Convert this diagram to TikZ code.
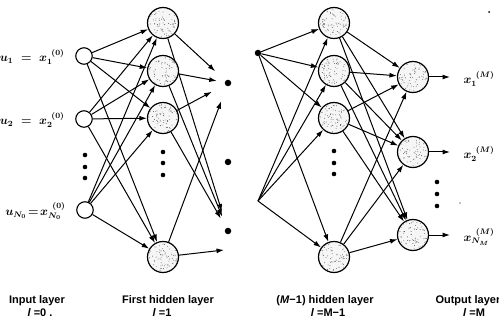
\documentclass[tikz,border=0pt]{standalone}
\usepackage{fontspec}
\setsansfont{Liberation Sans}
\usetikzlibrary{arrows.meta,backgrounds}

% grainy shading inside a neuron
\newcommand\stipple[1]{%
  \begin{scope}
    \clip (#1) circle (14.5pt);
    \foreach \k in {1,...,75}{
      \pgfmathsetmacro\rx{14*rand}
      \pgfmathsetmacro\ry{14*rand}
      \fill[black!65] ([shift={(\rx pt,\ry pt)}]#1.center) circle (0.45pt);
    }
  \end{scope}}

\tikzset{
  inp/.style={circle,draw,line width=1.1pt,minimum size=16.5pt,inner sep=0pt,fill=white},
  hid/.style={circle,draw,line width=1.2pt,minimum size=31pt,inner sep=0pt,fill=gray!7},
  bigdot/.style={circle,fill,inner sep=0pt,minimum size=6.5pt},
  smalldot/.style={circle,fill,inner sep=0pt,minimum size=4.6pt},
  speck/.style={circle,fill,inner sep=0pt,minimum size=2pt},
  link/.style={line width=1pt,-{Latex[length=7.5pt,width=5pt]}},
  layername/.style={font=\sffamily\bfseries\fontsize{11}{13}\selectfont},
  sig/.style={font=\fontsize{12}{14}\selectfont\boldmath},
}

\begin{document}
\begin{tikzpicture}[x=1pt,y=-1pt]
  \useasboundingbox (0,0) rectangle (499,321);
  \clip (0,0) rectangle (499,321);
  \pgfmathsetseed{4711}

  % input layer
  \node[inp] (u1) at (84,56)  {};
  \node[inp] (u2) at (84,119) {};
  \node[inp] (uN) at (85,210) {};
  \foreach \y [count=\i] in {155,167,178} \node[smalldot] (ud\i) at (85,\y) {};

  % first hidden layer
  \node[hid] (H1) at (163,23)  {};
  \node[hid] (H2) at (163,71)  {};
  \node[hid] (H3) at (163,118) {};
  \node[hid] (Hb) at (163,257) {};
  \foreach \y [count=\i] in {152,163,175} \node[smalldot] (hd\i) at (163,\y) {};

  % signals leaving the first hidden layer
  \node[bigdot] (D1) at (228,83)  {};
  \node[bigdot] (D2) at (228,162) {};
  \node[bigdot] (D3) at (228,231) {};
  \coordinate (Hout) at (224,250);

  % signals entering the (M-1) hidden layer
  \node[bigdot] (S1) at (258,53) {};
  \coordinate (S2) at (258,201);

  % (M-1) hidden layer
  \node[hid] (M1) at (334,23)  {};
  \node[hid] (M2) at (334,71)  {};
  \node[hid] (M3) at (334,118) {};
  \node[hid] (Mb) at (334,257) {};
  \foreach \y [count=\i] in {151,163,174} \node[smalldot] (md\i) at (334,\y) {};

  % output layer
  \node[hid] (O1) at (413,77)  {};
  \node[hid] (O2) at (413,152) {};
  \node[hid] (O3) at (413,235) {};
  \foreach \y [count=\i] in {182,194,206} \node[smalldot] (od\i) at (437,\y) {};
  \coordinate (y1) at (450,77);
  \coordinate (y2) at (450,152);
  \coordinate (y3) at (450,235);

  \node[speck] (sp1) at (489,12) {};
  \node[speck,minimum size=1.4pt] (sp2) at (460,203) {};

  \foreach \n in {H1,H2,H3,Hb,M1,M2,M3,Mb,O1,O2,O3} {\stipple{\n}}

  \begin{scope}[on background layer]
    \foreach \a in {u1,u2,uN}
      \foreach \b in {H1,H2,H3,Hb}
        \draw[link] (\a) -- (\b);
    \draw[link,shorten >=14pt] (H1) -- (D1);
    \draw[link,shorten >=8pt]  (H2) -- (D1);
    \draw[link,shorten >=15pt] (H3) -- (D1);
    \draw[link,shorten >=16pt] (Hb) -- (D1);
    \draw[link,shorten >=17pt] (H1) -- (D3);
    \draw[link,shorten >=12pt] (H2) -- (D3);
    \draw[link,shorten >=11pt] (H3) -- (D3);
    \draw[link] (Hb) -- (Hout);
    \foreach \a in {S1,S2}
      \foreach \b in {M1,M2,M3,Mb}
        \draw[link] (\a) -- (\b);
    \foreach \a in {M1,M2,M3,Mb}
      \foreach \b in {O1,O2,O3}
        \draw[link] (\a) -- (\b);
    \draw[link] (O1) -- (y1);
    \draw[link] (O2) -- (y2);
    \draw[link] (O3) -- (y3);
  \end{scope}

  % signal names
  \node[sig,anchor=east] (lu1) at (68,57)  {$u_1 \;=\; x_1^{\;\,(0)}$};
  \node[sig,anchor=east] (lu2) at (68,120) {$u_2 \;=\; x_2^{\;\,(0)}$};
  \node[sig,anchor=east] (luN) at (69,211) {$u_{N_0} \!=\! x_{N_0}^{\;\,(0)}$};
  \node[sig,anchor=west] (ly1) at (460,79)  {$x_1^{\;\,(M)}$};
  \node[sig,anchor=west] (ly2) at (460,154) {$x_2^{\;\,(M)}$};
  \node[sig,anchor=west] (ly3) at (460,237) {$x_{N_M}^{\;\,(M)}$};

  % layer names
  \node[layername] (n0) at (37,301)  {Input layer};
  \node[layername] (n1) at (168,301) {First hidden layer};
  \node[layername] (n2) at (325,301) {(\textit{M}−1) hidden layer};
  \node[layername,anchor=west] (n3) at (432,301) {Output layer};
  \node[layername] (i0) at (40,313)  {\textit{l} =0 .};
  \node[layername] (i1) at (162,313) {\textit{l} =1};
  \node[layername] (i2) at (328,313) {\textit{l} =M−1};
  \node[layername] (i3) at (474,313) {\textit{l} =M};
\end{tikzpicture}
\end{document}
